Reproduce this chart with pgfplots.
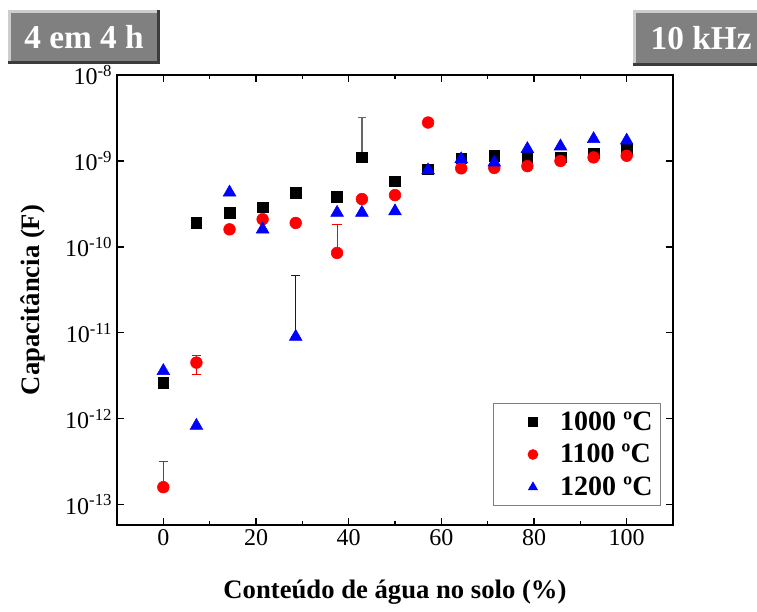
\documentclass[border=0pt]{standalone}
\usepackage{pgfplots}
\pgfplotsset{compat=1.18}
\usepackage{fontspec}
\setmainfont{Liberation Serif}

\definecolor{boxgray}{RGB}{128,128,128}
\definecolor{boxlight}{RGB}{205,205,205}
\definecolor{boxdark}{RGB}{60,60,60}
\definecolor{ptred}{RGB}{255,0,0}
\definecolor{ptblue}{RGB}{0,0,255}

\begin{document}
\begin{tikzpicture}[x=0.75pt,y=0.75pt]
\useasboundingbox (0,0) rectangle (757,611);

% header boxes
\fill[boxdark] (8,547) rectangle (160,601);
\fill[boxlight] (8,550) rectangle (157,601);
\fill[boxgray] (11,550) rectangle (157,598);
\node[text=white, font=\fontsize{25}{30}\selectfont\bfseries] at (84,574) {4 em 4 h};

\fill[boxdark] (633,545) rectangle (770,601);
\fill[boxlight] (633,548) rectangle (770,601);
\fill[boxgray] (636,548) rectangle (770,598);
\node[text=white, font=\fontsize{25}{30}\selectfont\bfseries, anchor=west] at (646,573) {10 kHz};

\begin{axis}[
    at={(87.75pt,64.5pt)}, anchor=south west,
    scale only axis,
    width=417pt, height=337.5pt,
    ymode=log, log basis y=10,
    xmin=-10, xmax=110,
    ymin=5.8e-14, ymax=1e-8,
    xtick={0,20,...,100},
    minor x tick num=1,
    ytick={1e-13,1e-12,1e-11,1e-10,1e-9,1e-8},
    yticklabels={10\textsuperscript{-13},10\textsuperscript{-12},10\textsuperscript{-11},10\textsuperscript{-10},10\textsuperscript{-9},10\textsuperscript{-8}},
    /pgf/number format/assume math mode=true,
    tick label style={font=\fontsize{18}{20}\selectfont},
    tick align=inside,
    major tick length=5pt,
    minor tick length=3pt,
    axis line style={line width=1.5pt},
    every tick/.style={black, line width=1pt},
    xlabel={Conteúdo de água no solo (\%)},
    ylabel={Capacitância (F)},
    label style={font=\fontsize{20}{24}\selectfont\bfseries},
    xlabel style={at={(axis description cs:0.5,-0.149)}, anchor=center},
    ylabel style={at={(axis description cs:-0.151,0.5)}, anchor=center},
    legend style={at={(0.676,0.271)}, anchor=north west, draw=gray, line width=0.75pt,
        font=\fontsize{21}{24}\selectfont\bfseries, inner xsep=4pt, inner ysep=4pt,
        row sep=5pt, column sep=6pt},
    legend image code/.code={
        \path (0cm,0cm) (1.31cm,0cm);
        \path[#1, draw=none, mark size=3.6pt] plot coordinates {(0.89cm,0cm)};
    },
    legend cell align=left,
    clip=false,
]

% error bars
\addplot[forget plot, only marks, mark=none, black!60,
    error bars/.cd, y dir=both, y explicit,
    error bar style={line width=1.2pt},
    error mark options={rotate=90, mark size=3pt, line width=1pt}]
coordinates {
    (42.86,1.1e-9) += (0,2.1e-9) -= (0,0)
};
\addplot[forget plot, only marks, mark=none, ptred,
    error bars/.cd, y dir=both, y explicit,
    error bar style={line width=0.75pt},
    error mark options={rotate=90, mark size=3.5pt, line width=0.75pt}]
coordinates {
    (0,1.6e-13) += (0,1.6e-13) -= (0,0)
    (7.14,4.5e-12) += (0,0.9e-12) -= (0,1.2e-12)
    (37.5,8.5e-11) += (0,9.5e-11) -= (0,0)
};
\addplot[forget plot, only marks, mark=none, ptblue,
    error bars/.cd, y dir=both, y explicit,
    error bar style={line width=0.75pt},
    error mark options={rotate=90, mark size=3.5pt, line width=0.75pt}]
coordinates {
    (28.57,9e-12) += (0,3.7e-11) -= (0,0)
};

% 1000 C
\addplot[only marks, mark=square*, mark size=4pt, black] coordinates {
    (0,2.6e-12) (7.14,1.9e-10) (14.29,2.5e-10) (21.43,2.9e-10) (28.57,4.3e-10)
    (37.5,3.8e-10) (42.86,1.1e-9) (50,5.8e-10) (57.14,8.0e-10) (64.29,1.07e-9)
    (71.43,1.15e-9) (78.57,1.1e-9) (85.71,1.1e-9) (92.86,1.23e-9) (100,1.38e-9)
};
\addlegendentry{1000 ºC}

% 1100 C
\addplot[only marks, mark=*, mark size=4.4pt, ptred] coordinates {
    (0,1.6e-13) (7.14,4.5e-12) (14.29,1.6e-10) (21.43,2.1e-10) (28.57,1.9e-10)
    (37.5,8.5e-11) (42.86,3.6e-10) (50,4.0e-10) (57.14,2.8e-9) (64.29,8.2e-10)
    (71.43,8.3e-10) (78.57,8.7e-10) (85.71,1.0e-9) (92.86,1.1e-9) (100,1.15e-9)
};
\addlegendentry{1100 ºC}

% 1200 C
\addplot[only marks, mark=triangle*, mark size=5.5pt, ptblue] coordinates {
    (0,3.6e-12) (7.14,8.3e-13) (14.29,4.3e-10) (21.43,1.6e-10) (28.57,9e-12)
    (37.5,2.5e-10) (42.86,2.5e-10) (50,2.6e-10) (57.14,7.8e-10) (64.29,1.05e-9)
    (71.43,9.6e-10) (78.57,1.38e-9) (85.71,1.48e-9) (92.86,1.8e-9) (100,1.73e-9)
};
\addlegendentry{1200 ºC}

\end{axis}
\end{tikzpicture}
\end{document}
